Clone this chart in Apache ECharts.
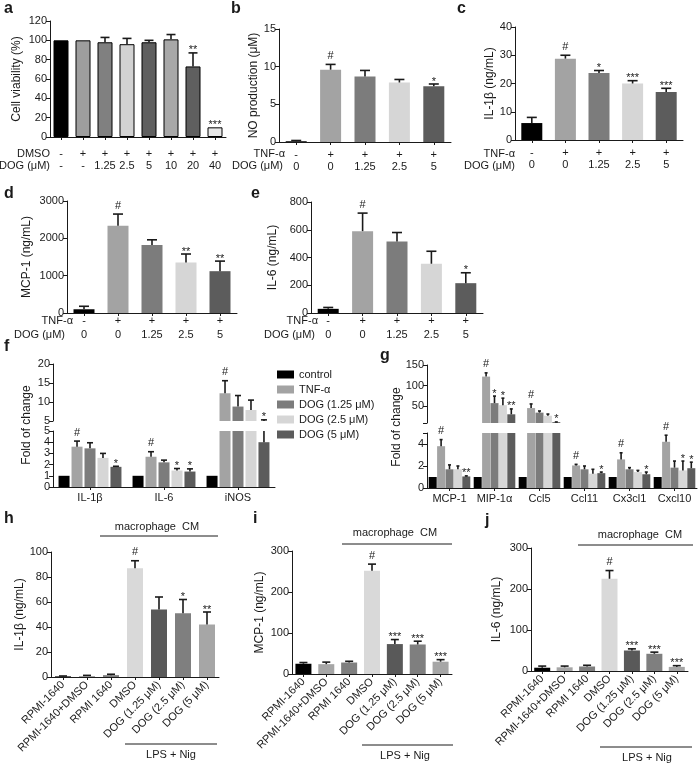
<!DOCTYPE html>
<html>
<head>
<meta charset="utf-8">
<script src="https://cdn.jsdelivr.net/npm/echarts@6/dist/echarts.min.js"></script>
<style>
  html, body { margin: 0; padding: 0; background: #fff; }
  #main { width: 698px; height: 764px; }
</style>
</head>
<body>
<div id="main"></div>
<script>
const FONT = '"Liberation Sans", Arial, sans-serif';
const INK = '#1a1a1a';

// a: cell viability
const aDmso = ['-', '+', '+', '+', '+', '+', '+', '+'];
const aDog = ['-', '-', '1.25', '2.5', '5', '10', '20', '40'];
const aViability = [100, 100, 98, 96, 98, 101, 73, 10];
const aSem = [0, 0, 5, 6, 2, 5, 14, 0];
const aSig = ['', '', '', '', '', '', '**', '***'];
const aColors = ['#000000', '#9e9e9e', '#808080', '#d2d2d2', '#5f5f5f', '#a8a8a8', '#5f5f5f', '#e8e8e8'];

// b-e: TNF-α / DOG groups
const tnfRow = ['-', '+', '+', '+', '+'];
const dogRow = ['0', '0', '1.25', '2.5', '5'];
const groupColors = ['#000000', '#a3a3a3', '#7c7c7c', '#d6d6d6', '#5c5c5c'];
const bNO = [0.1, 9.6, 8.7, 7.9, 7.4];
const bSem = [0.1, 0.7, 0.8, 0.4, 0.3];
const bSig = ['', '#', '', '', '*'];
const cIL1b = [6, 28.8, 23.7, 20, 17];
const cSem = [2, 1.2, 0.9, 1, 1.3];
const cSig = ['', '#', '*', '***', '***'];
const dMCP1 = [100, 2340, 1820, 1350, 1120];
const dSem = [80, 310, 140, 230, 270];
const dSig = ['', '#', '', '**', '**'];
const eIL6 = [30, 590, 515, 355, 215];
const eSem = [10, 130, 65, 90, 75];
const eSig = ['', '#', '', '', '*'];

// f: fold of change, broken axis
const fGenes = ['IL-1β', 'IL-6', 'iNOS'];
const legendNames = ['control', 'TNF-α', 'DOG (1.25 μM)', 'DOG (2.5 μM)', 'DOG (5 μM)'];
const fControl = [1, 1, 1];
const fTnf = [3.6, 2.7, 12.3];
const fDog125 = [3.45, 2.2, 8.8];
const fDog25 = [2.6, 1.47, 7.9];
const fDog5 = [1.8, 1.38, 4.0];
const fControlSem = [0, 0, 0];
const fTnfSem = [0.5, 0.45, 3.3];
const fDog125Sem = [0.5, 0.2, 2.9];
const fDog25Sem = [0.4, 0.18, 2.6];
const fDog5Sem = [0.05, 0.24, 1.3];
const fTnfSig = ['#', '#', '#'];
const fDog25Sig = ['', '*', ''];
const fDog5Sig = ['*', '*', '*'];

// g: chemokines, broken axis
const gGenes = ['MCP-1', 'MIP-1α', 'Ccl5', 'Ccl11', 'Cx3cl1', 'Cxcl10'];
const gControl = [1, 1, 1, 1, 1, 1];
const gTnf = [3.8, 122, 46, 2.05, 2.6, 4.2];
const gDog125 = [1.7, 58, 35, 1.7, 1.7, 1.85];
const gDog25 = [1.7, 53, 27.6, 1.3, 1.45, 1.6];
const gDog5 = [1.05, 31, 12, 1.35, 1.25, 1.8];
const gControlSem = [0, 0, 0, 0, 0, 0];
const gTnfSem = [0.6, 9, 10, 0.1, 0.6, 0.6];
const gDog125Sem = [0.4, 17, 4, 0.3, 0.15, 0.6];
const gDog25Sem = [0.3, 17, 4, 0.4, 0.15, 0.85];
const gDog5Sem = [0.05, 13, 0.5, 0.1, 0.2, 0.55];
const gTnfSig = ['#', '#', '#', '#', '#', '#'];
const gDog125Sig = ['', '*', '', '', '', ''];
const gDog25Sig = ['', '*', '', '', '', '*'];
const gDog5Sig = ['**', '**', '*', '*', '*', '*'];

// h-j: conditioned medium
const cmGroups = ['RPMI-1640', 'RPMI-1640+DMSO', 'RPMI 1640', 'DMSO', 'DOG (1.25 μM)', 'DOG (2.5 μM)', 'DOG (5 μM)'];
const cmColors = ['#000000', '#a6a6a6', '#7f7f7f', '#d9d9d9', '#595959', '#7f7f7f', '#a6a6a6'];
const hIL1b = [0.5, 0.8, 1.5, 87, 54, 51, 42];
const hSem = [0.3, 0.5, 0.7, 6, 10, 11, 10];
const hSig = ['', '', '', '#', '', '*', '**'];
const iMCP1 = [25, 24, 28, 252, 73, 72, 30];
const iSem = [3, 5, 3, 16, 11, 8, 5];
const iSig = ['', '', '', '#', '***', '***', '***'];
const jIL6 = [8, 9, 11, 225, 50, 42, 10];
const jSem = [4, 3, 3, 20, 4, 4, 3];
const jSig = ['', '', '', '#', '***', '***', '***'];

const option = {
  animation: false,
  textStyle: { fontFamily: FONT },
  grid: [], xAxis: [], yAxis: [], series: [], graphic: [],
  legend: {
    orient: 'vertical', left: 272, top: 364,
    itemWidth: 17, itemHeight: 8, itemGap: 4, icon: 'rect',
    selectedMode: false,
    textStyle: { fontSize: 11, color: INK, fontFamily: FONT },
    data: legendNames
  }
};

const plain = v => String(v);

function yAx(gi, min, max, interval, name, gap, extra) {
  return Object.assign({
    type: 'value', gridIndex: gi, min, max, interval,
    name, nameLocation: 'middle', nameGap: gap,
    nameTextStyle: { fontSize: 12, color: INK, fontFamily: FONT },
    axisLine: { show: true, lineStyle: { color: INK, width: 1 } },
    axisTick: { show: true, length: 4, lineStyle: { color: INK } },
    axisLabel: { fontSize: 11, color: INK, margin: 3, fontFamily: FONT, formatter: plain },
    splitLine: { show: false }
  }, extra || {});
}

function xAx(gi, data, label, show) {
  return {
    type: 'category', gridIndex: gi, data, show: show !== false,
    axisLine: { lineStyle: { color: INK, width: 1 } },
    axisTick: { show: true, alignWithLabel: true, length: 3, lineStyle: { color: INK } },
    axisLabel: Object.assign({ interval: 0, fontSize: 11, color: INK, fontFamily: FONT }, label)
  };
}

function errorSeries(gi, vals, sems, sigs, dx, capW, yMin, yMax) {
  return {
    type: 'custom', xAxisIndex: gi, yAxisIndex: gi, z: 10, silent: true,
    data: vals.map((v, i) => [i, v]),
    renderItem(params, api) {
      const i = params.dataIndex;
      const v = vals[i], top = v + sems[i];
      const x = api.coord([i, yMin])[0] + dx;
      const kids = [];
      const lo = Math.max(v, yMin), hi = Math.min(top, yMax);
      if (sems[i] > 0 && hi > lo) {
        const y0 = api.coord([i, lo])[1], y1 = api.coord([i, hi])[1];
        kids.push({ type: 'line', shape: { x1: x, y1: y0, x2: x, y2: y1 }, style: { stroke: INK, lineWidth: 1.6 } });
        if (top <= yMax) {
          kids.push({ type: 'line', shape: { x1: x - capW / 2, y1: y1, x2: x + capW / 2, y2: y1 }, style: { stroke: INK, lineWidth: 1.6 } });
        }
      }
      const s = sigs && sigs[i];
      if (s && top >= yMin && top <= yMax) {
        const yt = api.coord([i, top])[1];
        kids.push({
          type: 'text', x, y: yt - (s[0] === '#' ? 3 : -3),
          style: { text: s, fill: INK, font: '11px ' + FONT, align: 'center', verticalAlign: 'bottom' }
        });
      }
      return { type: 'group', children: kids };
    }
  };
}

function addPanel(rect, cats, vals, sems, sigs, colors, yCfg, label, opts) {
  const gi = option.grid.length;
  option.grid.push({ left: rect[0], top: rect[1], width: rect[2], height: rect[3] });
  option.xAxis.push(xAx(gi, cats, label));
  option.yAxis.push(yAx(gi, yCfg.min, yCfg.max, yCfg.interval, yCfg.name, yCfg.gap));
  option.series.push({
    type: 'bar', xAxisIndex: gi, yAxisIndex: gi, barWidth: opts.barWidth,
    itemStyle: opts.border ? { borderColor: '#000', borderWidth: 1 } : {},
    data: vals.map((v, i) => ({ value: v, itemStyle: { color: colors[i] } }))
  });
  option.series.push(errorSeries(gi, vals, sems, sigs, 0, opts.cap, yCfg.min, yCfg.max));
}

function addGrouped(rect, cats, groups, yCfg, showX, bw, gap, cap) {
  const gi = option.grid.length;
  option.grid.push({ left: rect[0], top: rect[1], width: rect[2], height: rect[3] });
  option.xAxis.push(xAx(gi, cats, { margin: 5 }, showX));
  option.yAxis.push(yAx(gi, yCfg.min, yCfg.max, yCfg.interval, '', 0, yCfg.extra));
  const n = groups.length;
  groups.forEach(g => {
    option.series.push({
      type: 'bar', name: g.name, xAxisIndex: gi, yAxisIndex: gi,
      barWidth: bw, barGap: (gap * 100) + '%', itemStyle: { color: g.color },
      data: g.vals
    });
  });
  groups.forEach((g, k) => {
    const dx = (k - (n - 1) / 2) * bw * (1 + gap);
    option.series.push(errorSeries(gi, g.vals, g.sems, g.sigs, dx, cap, yCfg.min, yCfg.max));
  });
}

const twoRow = (r1, r2) => r1.map((v, i) => v + '\n' + r2[i]);

// top row
addPanel([50, 21, 176, 116], twoRow(aDmso, aDog), aViability, aSem, aSig, aColors,
  { min: 0, max: 120, interval: 20, name: 'Cell viability (%)', gap: 27 },
  { lineHeight: 12, margin: 11 }, { barWidth: 15, border: true, cap: 9 });
addPanel([279, 29, 172, 113], twoRow(tnfRow, dogRow), bNO, bSem, bSig, groupColors,
  { min: 0, max: 15, interval: 5, name: 'NO production (μM)', gap: 18 },
  { lineHeight: 12, margin: 7 }, { barWidth: 21, cap: 10 });
addPanel([515, 27, 168, 113], twoRow(tnfRow, dogRow), cIL1b, cSem, cSig, groupColors,
  { min: 0, max: 40, interval: 10, name: 'IL-1β (ng/mL)', gap: 18 },
  { lineHeight: 12, margin: 7 }, { barWidth: 21, cap: 10 });
// second row
addPanel([67, 201, 170, 112], twoRow(tnfRow, dogRow), dMCP1, dSem, dSig, groupColors,
  { min: 0, max: 3000, interval: 1000, name: 'MCP-1 (ng/mL)', gap: 34 },
  { lineHeight: 14, margin: 1 }, { barWidth: 21, cap: 10 });
addPanel([311, 202, 172, 111], twoRow(tnfRow, dogRow), eIL6, eSem, eSig, groupColors,
  { min: 0, max: 800, interval: 200, name: 'IL-6 (ng/mL)', gap: 32 },
  { lineHeight: 14, margin: 1 }, { barWidth: 21, cap: 10 });

// f broken axis
const fGroups = [
  { name: legendNames[0], color: groupColors[0], vals: fControl, sems: fControlSem, sigs: null },
  { name: legendNames[1], color: groupColors[1], vals: fTnf, sems: fTnfSem, sigs: fTnfSig },
  { name: legendNames[2], color: groupColors[2], vals: fDog125, sems: fDog125Sem, sigs: null },
  { name: legendNames[3], color: groupColors[3], vals: fDog25, sems: fDog25Sem, sigs: fDog25Sig },
  { name: legendNames[4], color: groupColors[4], vals: fDog5, sems: fDog5Sem, sigs: fDog5Sig }
];
addGrouped([53, 364, 222, 57], fGenes, fGroups, { min: 5, max: 20, interval: 5 }, false, 11, 0.18, 6);
addGrouped([53, 431, 222, 56], fGenes, fGroups, { min: 0, max: 5, interval: 1 }, true, 11, 0.18, 6);

// g broken axis
const gGroups = [
  { name: legendNames[0], color: groupColors[0], vals: gControl, sems: gControlSem, sigs: null },
  { name: legendNames[1], color: groupColors[1], vals: gTnf, sems: gTnfSem, sigs: gTnfSig },
  { name: legendNames[2], color: groupColors[2], vals: gDog125, sems: gDog125Sem, sigs: gDog125Sig },
  { name: legendNames[3], color: groupColors[3], vals: gDog25, sems: gDog25Sem, sigs: gDog25Sig },
  { name: legendNames[4], color: groupColors[4], vals: gDog5, sems: gDog5Sem, sigs: gDog5Sig }
];
addGrouped([427, 365, 270, 58], gGenes, gGroups,
  { min: 10, max: 150, extra: { axisLabel: { fontSize: 11, color: INK, margin: 3, customValues: [50, 100, 150] }, axisTick: { show: true, length: 4, lineStyle: { color: INK }, customValues: [10, 50, 100, 150] } } },
  false, 8, 0.05, 3);
addGrouped([427, 433, 270, 55], gGenes, gGroups,
  { min: 0, max: 5, extra: { axisLabel: { fontSize: 11, color: INK, margin: 3, customValues: [0, 2, 4] }, axisTick: { show: true, length: 4, lineStyle: { color: INK }, customValues: [0, 2, 4, 5] } } },
  true, 8, 0.05, 3);

// bottom row
const rotLabel = { rotate: 45, margin: 6, fontSize: 11 };
addPanel([51, 552, 168, 125], cmGroups, hIL1b, hSem, hSig, cmColors,
  { min: 0, max: 100, interval: 20, name: 'IL-1β (ng/mL)', gap: 23 }, rotLabel, { barWidth: 16, cap: 8 });
addPanel([292, 551, 160, 123], cmGroups, iMCP1, iSem, iSig, cmColors,
  { min: 0, max: 300, interval: 100, name: 'MCP-1 (ng/mL)', gap: 26 }, rotLabel, { barWidth: 16, cap: 8 });
addPanel([531, 548, 157, 123], cmGroups, jIL6, jSem, jSig, cmColors,
  { min: 0, max: 300, interval: 100, name: 'IL-6 (ng/mL)', gap: 28 }, rotLabel, { barWidth: 16, cap: 8 });

// texts and brackets
function txt(x, y, s, extra) {
  return {
    type: 'text', x, y,
    style: Object.assign({ text: s, fill: INK, font: '11px ' + FONT, align: 'center', verticalAlign: 'middle' }, extra || {})
  };
}
function bold(x, y, s) { return txt(x, y, s, { font: 'bold 16px ' + FONT, align: 'left' }); }
function hline(x1, x2, y) {
  return { type: 'line', shape: { x1, y1: y, x2, y2: y }, style: { stroke: INK, lineWidth: 1 } };
}
option.graphic = [
  bold(4, 9, 'a'), bold(231, 9, 'b'), bold(457, 9, 'c'),
  bold(4, 194, 'd'), bold(251, 194, 'e'),
  bold(4, 347, 'f'), bold(380, 356, 'g'),
  bold(4, 519, 'h'), bold(253, 519, 'i'), bold(485, 521, 'j'),
  txt(50, 154, 'DMSO', { align: 'right' }), txt(50, 166, 'DOG (μM)', { align: 'right' }),
  txt(285, 154, 'TNF-α', { align: 'right' }), txt(283, 166, 'DOG (μM)', { align: 'right' }),
  txt(515, 154, 'TNF-α', { align: 'right' }), txt(515, 166, 'DOG (μM)', { align: 'right' }),
  txt(73, 321, 'TNF-α', { align: 'right' }), txt(65, 335, 'DOG (μM)', { align: 'right' }),
  txt(318, 321, 'TNF-α', { align: 'right' }), txt(315, 335, 'DOG (μM)', { align: 'right' }),
  Object.assign(txt(27, 425, 'Fold of change', { font: '12px ' + FONT }), { rotation: Math.PI / 2 }),
  Object.assign(txt(397, 427, 'Fold of change', { font: '12px ' + FONT }), { rotation: Math.PI / 2 }),
  txt(157, 527, 'macrophage  CM'), hline(100, 218, 536),
  txt(171, 755, 'LPS + Nig'), hline(125, 217, 744),
  txt(395, 533, 'macrophage  CM'), hline(342, 452, 544),
  txt(405, 756, 'LPS + Nig'), hline(362, 453, 745),
  txt(640, 535, 'macrophage  CM'), hline(578, 693, 545),
  txt(647, 758, 'LPS + Nig'), hline(600, 692, 747)
];

const chart = echarts.init(document.getElementById('main'), null, { renderer: 'canvas' });
chart.setOption(option);
</script>
</body>
</html>
